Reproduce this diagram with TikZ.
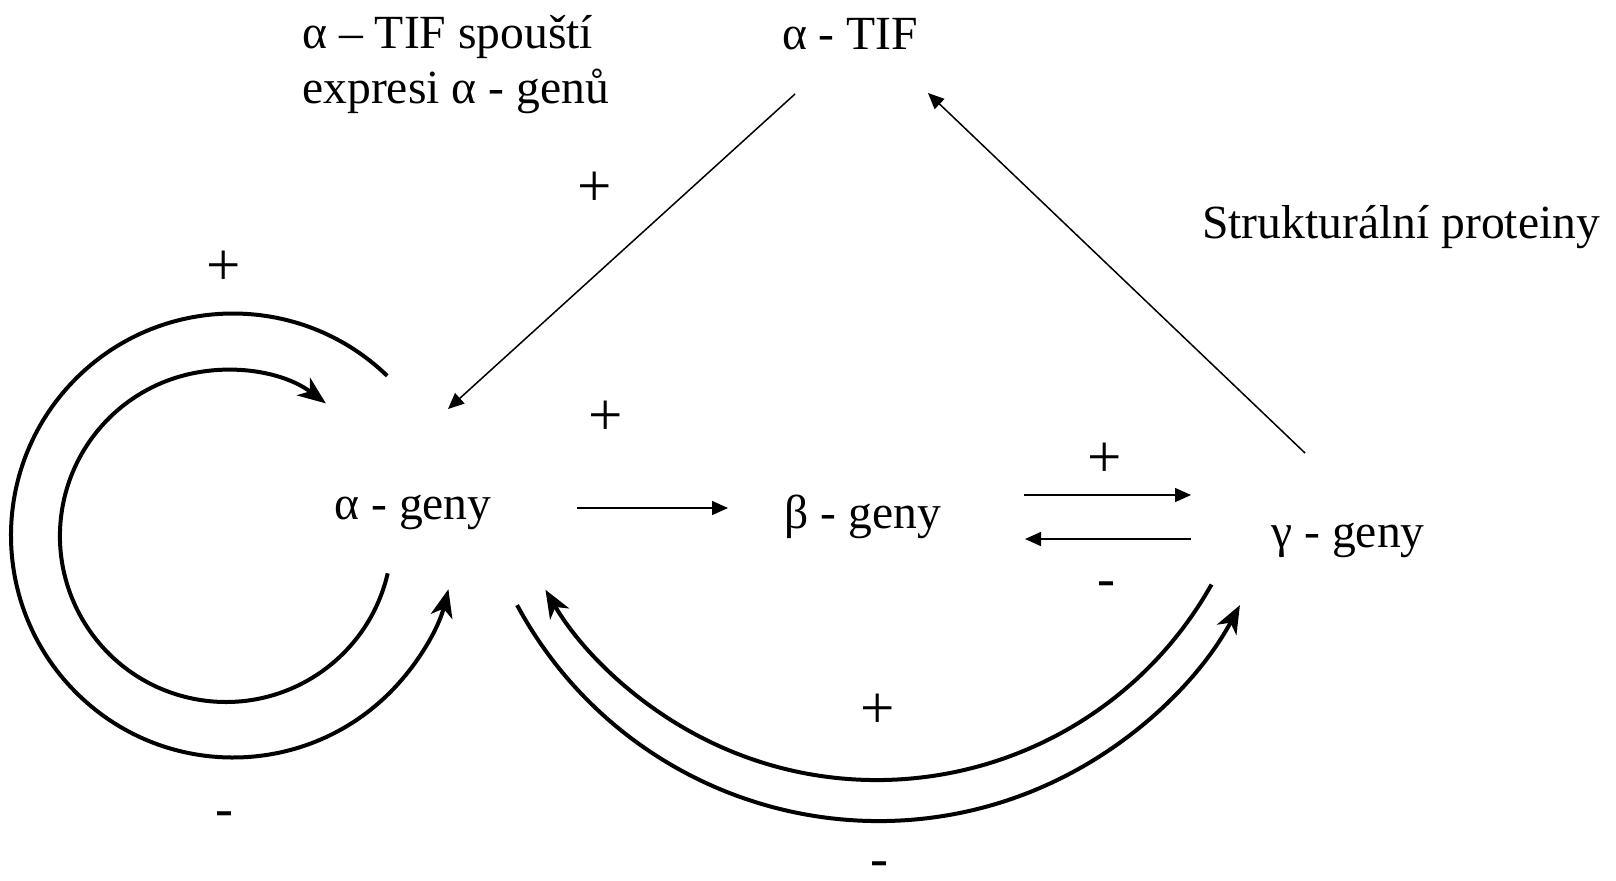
\documentclass[tikz,border=0pt]{standalone}
\usepackage{fontspec}
\setmainfont{Liberation Serif}
\usetikzlibrary{arrows.meta}
\begin{document}
\begin{tikzpicture}[x=0.5pt,y=0.5pt,
  txt/.style={inner sep=0pt,font=\fontsize{23.8pt}{27.3pt}\selectfont},
  plus/.style={inner sep=0pt,anchor=center,font=\fontsize{30.5pt}{32pt}\selectfont},
  minus/.style={inner sep=0pt,anchor=center,font=\fontsize{27pt}{30pt}\selectfont},
  thinarr/.style={line width=0.75pt,-{Triangle[length=8pt,width=7pt]}},
  thickarr/.style={line width=2pt,-{Stealth[length=14pt,width=11pt,inset=4pt]}}]
\useasboundingbox (0,0) rectangle (1616,-880);
% text nodes
\node[txt,anchor=base west,align=left] (note) at (302,-103) {α – TIF spouští\\expresi α - genů};
\node[txt,anchor=base] (tif) at (850,-49.5) {α - TIF};
\node[txt,anchor=base] (struct) at (1401,-238) {Strukturální proteiny};
\node[txt,anchor=base] (alpha) at (413,-519) {α - geny};
\node[txt,anchor=base] (beta) at (863,-528) {β - geny};
\node[txt,anchor=base] (gamma) at (1348,-547) {γ - geny};
% signs
\node[plus] (p1) at (224,-268) {+};
\node[plus] (p2) at (595,-189) {+};
\node[plus] (p3) at (606,-418) {+};
\node[plus] (p4) at (1105,-460) {+};
\node[plus] (p5) at (878,-711) {+};
\node[minus] (m1) at (1106,-589) {-};
\node[minus] (m2) at (224,-819) {-};
\node[minus,anchor=base] (m3) at (879,-876) {-};
% connector end points
\coordinate (tifout) at (795,-94);
\coordinate (alphatop) at (448,-409);
\coordinate (gammaout) at (1305,-453);
\coordinate (tifin) at (928,-93);
\coordinate (alphaR) at (577,-508);
\coordinate (betaL) at (728,-508);
\coordinate (betaR1) at (1024,-495);
\coordinate (gammaL1) at (1191,-495);
\coordinate (gammaL2) at (1191,-539);
\coordinate (betaR2) at (1025,-539);
\coordinate (outerL) at (387.2,-375.8);
\coordinate (innerL) at (387.7,-573.3);
\coordinate (innerB) at (1211.5,-584.5);
\coordinate (outerB) at (517.1,-605.1);
% thin connectors
\draw[thinarr] (tifout) -- (alphatop);
\draw[thinarr] (gammaout) -- (tifin);
\draw[thinarr] (alphaR) -- (betaL);
\draw[thinarr] (betaR1) -- (gammaL1);
\draw[thinarr] (gammaL2) -- (betaR2);
% thick loops
\draw[thickarr] (outerL) arc[start angle=46,end angle=346,radius=222];
\draw[thickarr] (innerL) arc[start angle=-13,end angle=-307,radius=166];
\draw[thickarr] (innerB) arc[start angle=-29.4,end angle=-149.7,radius=384];
\draw[thickarr] (outerB) arc[start angle=-151.7,end angle=-28.3,radius=410.5];
\end{tikzpicture}
\end{document}
